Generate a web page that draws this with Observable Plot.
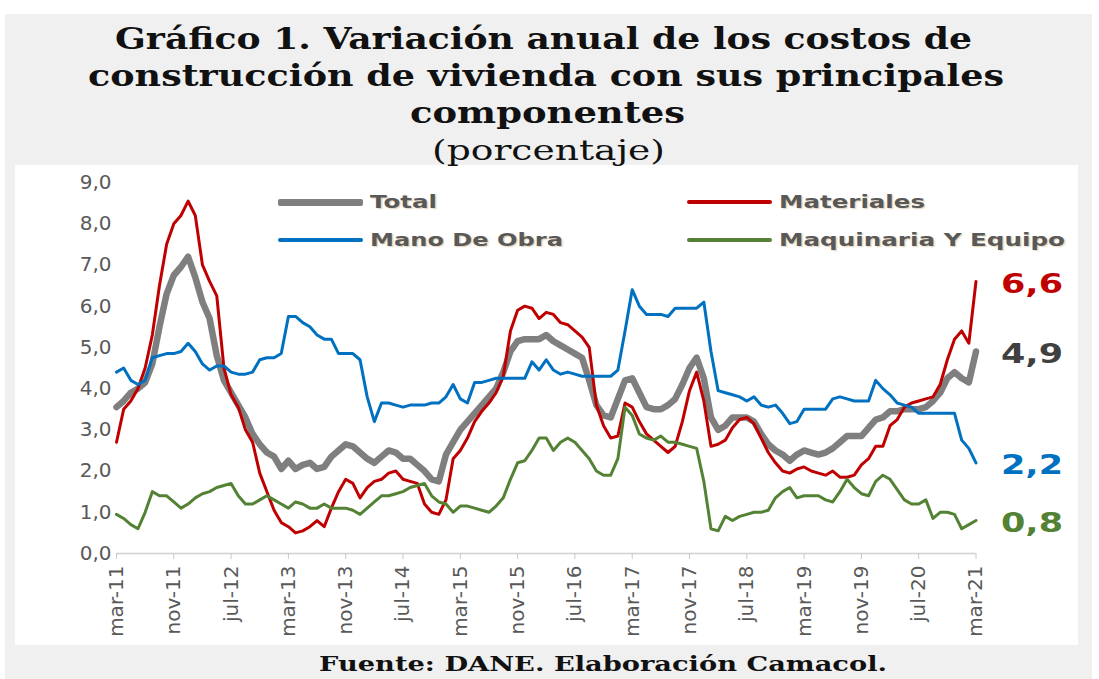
<!DOCTYPE html>
<html><head><meta charset="utf-8">
<script src="https://cdn.jsdelivr.net/npm/d3@7"></script>
<script src="https://cdn.jsdelivr.net/npm/@observablehq/plot@0.6"></script>
<style>
body{margin:0;background:#fff;width:1099px;height:679px;position:relative;overflow:hidden;font-family:"DejaVu Sans",sans-serif;}
#panel{position:absolute;left:5px;top:14px;width:1087px;height:665px;background:#f0f0f0;}
#plotbox{position:absolute;left:15px;top:165px;width:1063px;height:480px;background:#fff;}
.t{position:absolute;white-space:nowrap;font-family:"DejaVu Serif",serif;color:#111;}
.t span{display:inline-block;transform-origin:0 50%;}
.lg{position:absolute;white-space:nowrap;height:20px;}
.lg .sw{position:absolute;left:0;border-radius:2px;}
.lg .tx{position:absolute;top:0;font-family:"DejaVu Sans",sans-serif;font-weight:bold;font-size:17px;line-height:20px;color:#595959;transform-origin:0 50%;text-shadow:1px 1px 1px rgba(200,170,120,0.5);}
</style></head>
<body>
<div id="panel"></div>
<div id="plotbox"></div>
<div class="t" id="t1" style="top:22px;font-size:29px;font-weight:bold"><span>Gráfico 1. Variación anual de los costos de</span></div>
<div class="t" id="t2" style="top:59px;font-size:29px;font-weight:bold"><span>construcción de vivienda con sus principales</span></div>
<div class="t" id="t3" style="top:96px;font-size:29px;font-weight:bold"><span>componentes</span></div>
<div class="t" id="t4" style="top:134px;font-size:28px;"><span>(porcentaje)</span></div>
<div class="t" id="t5" style="top:652px;font-size:20px;font-weight:bold"><span>Fuente: DANE. Elaboración Camacol.</span></div>
<div id="legend"></div>
<script>
// ---- data (annual % change), monthly from mar-11 to mar-21 ----
const tickLabels = ["mar-11","nov-11","jul-12","mar-13","nov-13","jul-14","mar-15","nov-15","jul-16","mar-17","nov-17","jul-18","mar-19","nov-19","jul-20","mar-21"];
const seriesNames = ["Total","Materiales","Mano De Obra","Maquinaria Y Equipo"];
const seriesColors = ["#7f7f7f","#c00000","#0070c0","#548235"];
const labelColors = ["#404040","#c00000","#0070c0","#548235"];

const total = [
3.55,3.7,3.9,4.0,4.15,4.6,5.5,6.3,6.75,6.95,
7.2,6.7,6.1,5.7,4.8,4.2,3.9,3.6,3.3,2.9,
2.65,2.45,2.35,2.05,2.25,2.05,2.15,2.2,2.05,2.1,
2.35,2.5,2.65,2.6,2.45,2.3,2.2,2.35,2.5,2.45,
2.3,2.3,2.15,2.0,1.8,1.75,2.4,2.7,3.0,3.2,
3.4,3.6,3.8,4.0,4.4,4.9,5.15,5.2,5.2,5.2,
5.3,5.15,5.05,4.95,4.85,4.75,4.2,3.6,3.35,3.3,
3.75,4.2,4.25,3.9,3.55,3.5,3.5,3.6,3.75,4.1,
4.5,4.75,4.25,3.3,3.0,3.1,3.3,3.3,3.3,3.2,
2.9,2.65,2.5,2.4,2.25,2.4,2.5,2.45,2.4,2.45,
2.55,2.7,2.85,2.85,2.85,3.05,3.25,3.3,3.45,3.45,
3.5,3.5,3.5,3.55,3.7,3.9,4.25,4.4,4.25,4.15,
4.9];
const materiales = [
2.7,3.5,3.7,4.0,4.5,5.3,6.5,7.5,8.0,8.2,
8.55,8.2,7.0,6.6,6.25,4.5,3.85,3.55,3.0,2.7,
1.95,1.5,1.05,0.75,0.65,0.5,0.55,0.65,0.8,0.65,
1.1,1.5,1.8,1.7,1.35,1.6,1.75,1.8,1.95,2.0,
1.8,1.75,1.7,1.2,1.0,0.95,1.3,2.3,2.5,2.8,
3.2,3.45,3.65,3.9,4.3,5.4,5.9,6.0,5.95,5.7,
5.85,5.8,5.6,5.55,5.4,5.25,5.0,3.6,3.1,2.8,
2.85,3.65,3.55,3.2,2.9,2.75,2.6,2.45,2.6,3.2,
3.95,4.4,3.7,2.6,2.65,2.75,3.05,3.25,3.3,3.15,
2.8,2.45,2.2,2.0,1.95,2.05,2.1,2.0,1.95,1.9,
2.0,1.85,1.85,1.9,2.15,2.3,2.6,2.6,3.1,3.25,
3.55,3.65,3.7,3.75,3.8,4.1,4.7,5.2,5.4,5.1,
6.6];
const manoDeObra = [
4.4,4.5,4.2,4.1,4.2,4.75,4.8,4.85,4.85,4.9,
5.1,4.9,4.6,4.45,4.55,4.55,4.4,4.35,4.35,4.4,
4.7,4.75,4.75,4.85,5.75,5.75,5.6,5.5,5.3,5.2,
5.2,4.85,4.85,4.85,4.7,3.8,3.2,3.65,3.65,3.6,
3.55,3.6,3.6,3.6,3.65,3.65,3.8,4.1,3.75,3.65,
4.15,4.15,4.2,4.25,4.25,4.25,4.25,4.25,4.65,4.45,
4.7,4.45,4.35,4.4,4.35,4.3,4.3,4.3,4.3,4.3,
4.45,5.4,6.4,6.0,5.8,5.8,5.8,5.75,5.95,5.95,
5.95,5.95,6.1,4.9,3.95,3.9,3.85,3.8,3.7,3.8,
3.6,3.55,3.6,3.4,3.15,3.2,3.5,3.5,3.5,3.5,
3.75,3.8,3.75,3.7,3.7,3.7,4.2,4.0,3.85,3.65,
3.6,3.55,3.4,3.4,3.4,3.4,3.4,3.4,2.75,2.55,
2.2];
const maquinaria = [
0.95,0.85,0.7,0.6,1.0,1.5,1.4,1.4,1.25,1.1,
1.2,1.35,1.45,1.5,1.6,1.65,1.7,1.4,1.2,1.2,
1.3,1.4,1.3,1.2,1.1,1.25,1.2,1.1,1.1,1.2,
1.1,1.1,1.1,1.05,0.95,1.1,1.25,1.4,1.4,1.45,
1.5,1.6,1.65,1.7,1.4,1.25,1.2,1.0,1.15,1.15,
1.1,1.05,1.0,1.15,1.35,1.8,2.2,2.25,2.5,2.8,
2.8,2.5,2.7,2.8,2.7,2.5,2.3,2.0,1.9,1.9,
2.3,3.55,3.35,2.9,2.8,2.75,2.85,2.7,2.7,2.65,
2.6,2.55,1.75,0.6,0.55,0.9,0.8,0.9,0.95,1.0,
1.0,1.05,1.35,1.5,1.6,1.35,1.4,1.4,1.4,1.3,
1.25,1.5,1.8,1.6,1.45,1.4,1.75,1.9,1.8,1.55,
1.3,1.2,1.2,1.3,0.85,1.0,1.0,0.95,0.6,0.7,
0.8];

const allSeries = [total, materiales, manoDeObra, maquinaria];
const rows = allSeries.flatMap((vals, s) => vals.map((v, i) => ({i, v, s: seriesNames[s]})));
const last = allSeries.map((vals, s) => ({i: vals.length - 1, v: vals[vals.length - 1], s: seriesNames[s], c: labelColors[s]}));
const fmt = d => d3.format(".1f")(d).replace(".", ",");
const tickIdx = tickLabels.map((_, k) => k * 8);

const chart = Plot.plot({
  width: 1063, height: 480,
  marginLeft: 101, marginRight: 102.5, marginTop: 17, marginBottom: 92,
  style: {fontFamily: "DejaVu Sans, sans-serif", color: "#595959", background: "transparent", overflow: "visible"},
  x: {domain: [0, 120], label: null},
  y: {domain: [0, 9], label: null},
  color: {domain: seriesNames, range: seriesColors},
  marks: [
    Plot.ruleY([0], {stroke: "#d0d0d0", strokeWidth: 1.5}),
    Plot.axisY({ticks: d3.range(0, 10), tickFormat: fmt, tickSize: 0, tickPadding: 5, fontSize: 20, label: null}),
    Plot.axisX({ticks: tickIdx, tickFormat: d => tickLabels[d / 8], tickRotate: -90, tickSize: 6, tickPadding: 6, fontSize: 20, label: null}),
    Plot.lineY(rows.filter(d => d.s === "Total"), {x: "i", y: "v", stroke: seriesColors[0], strokeWidth: 6.5, strokeLinejoin: "round"}),
    Plot.lineY(rows.filter(d => d.s === "Materiales"), {x: "i", y: "v", stroke: seriesColors[1], strokeWidth: 3, strokeLinejoin: "round"}),
    Plot.lineY(rows.filter(d => d.s === "Mano De Obra"), {x: "i", y: "v", stroke: seriesColors[2], strokeWidth: 3, strokeLinejoin: "round"}),
    Plot.lineY(rows.filter(d => d.s === "Maquinaria Y Equipo"), {x: "i", y: "v", stroke: seriesColors[3], strokeWidth: 3, strokeLinejoin: "round"}),
    Plot.text(last, {x: "i", y: "v", text: d => fmt(d.v), fill: "c", dx: 25, dy: 3, textAnchor: "start", fontSize: 27, fontWeight: "bold"})
  ]
});
document.getElementById("plotbox").appendChild(chart);
const svg = d3.select(chart);
svg.selectAll('g[aria-label="x-axis tick"] path').attr("stroke", "#c8c8c8");
svg.selectAll('g[aria-label="text"] text').attr("textLength", 62).attr("lengthAdjust", "spacingAndGlyphs");

// legend (HTML, page coordinates)
const legendPos = [
  {left: 278, top: 192, textW: 67},
  {left: 687, top: 192, textW: 146},
  {left: 278, top: 230, textW: 193},
  {left: 687, top: 230, textW: 286}
];
const lg = document.getElementById("legend");
seriesNames.forEach((name, s) => {
  const p = legendPos[s];
  const d = document.createElement("div");
  d.className = "lg";
  d.style.left = p.left + "px"; d.style.top = p.top + "px";
  const w = s === 0 ? 7 : 3.5;
  const sw = document.createElement("div");
  sw.className = "sw";
  sw.style.width = "85px"; sw.style.height = w + "px"; sw.style.top = (10 - w / 2) + "px";
  sw.style.background = seriesColors[s];
  const tx = document.createElement("div");
  tx.className = "tx"; tx.textContent = name; tx.style.left = "92px";
  d.appendChild(sw); d.appendChild(tx); lg.appendChild(d);
  const r = tx.getBoundingClientRect().width;
  tx.style.transform = `scaleX(${p.textW / r})`;
});

// fit title lines to their widths and centres
const fits = [["t1", 857, 543.5], ["t2", 916, 546], ["t3", 275, 547.5], ["t4", 233, 548.5], ["t5", 568, 603]];
fits.forEach(([id, w, cx]) => {
  const el = document.getElementById(id);
  const sp = el.querySelector("span");
  const r = sp.getBoundingClientRect().width;
  sp.style.transform = `scaleX(${w / r})`;
  el.style.left = (cx - w / 2) + "px";
});
</script>
</body></html>
